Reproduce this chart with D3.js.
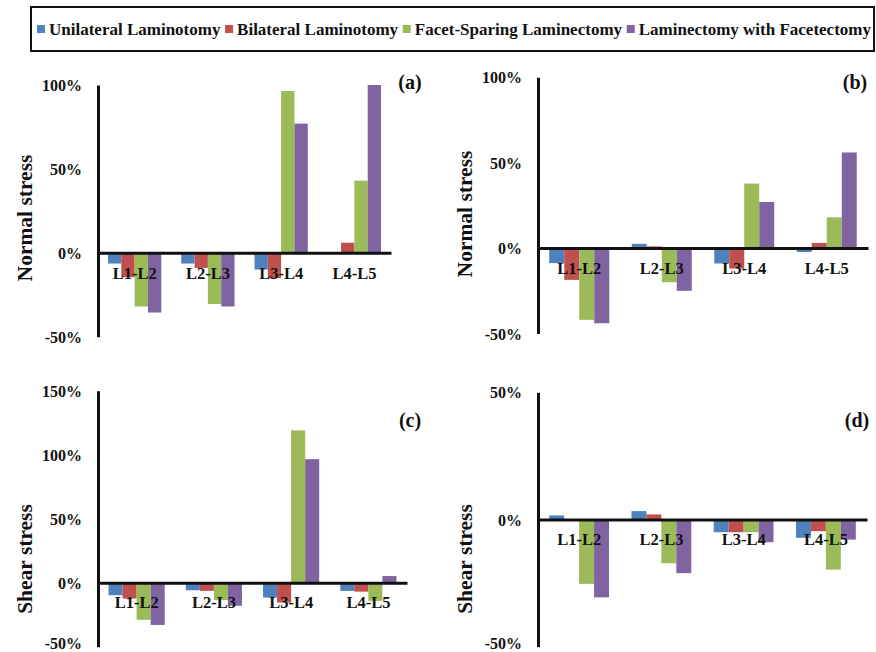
<!DOCTYPE html>
<html>
<head>
<meta charset="utf-8">
<script src="https://cdn.jsdelivr.net/npm/d3@7/dist/d3.min.js"></script>
<style>
  html, body { margin: 0; padding: 0; background: #fff; }
  svg { display: block; }
</style>
</head>
<body>
<svg id="chart" width="876" height="652"></svg>
<script>
// Spinal levels and decompression procedures
const categories = ["L1-L2", "L2-L3", "L3-L4", "L4-L5"];
const seriesNames = ["Unilateral Laminotomy", "Bilateral Laminotomy", "Facet-Sparing Laminectomy", "Laminectomy with Facetectomy"];
const seriesColors = ["#4f81bd", "#c0504d", "#9bbb59", "#8064a2"];

// Percent change per procedure (rows follow seriesNames, columns follow categories)
const normalStressA = [
  [-6.4, -6.4, -10, 0],
  [-14.5, -9, -15, 6],
  [-32, -30.5, 96.4, 43],
  [-35.6, -32, 77, 100]
];
const normalStressB = [
  [-8.8, 2.5, -9, -2.3],
  [-18.6, 1, -12, 3],
  [-42, -20, 37.8, 18],
  [-44, -25, 27, 56]
];
const shearStressC = [
  [-9.8, -5.9, -11.6, -6.4],
  [-12.4, -6.4, -15.5, -7],
  [-29, -13.6, 119, -14.2],
  [-33, -18, 96.5, 5.2]
];
const shearStressD = [
  [1.6, 3.3, -5, -7.2],
  [0, 2, -5, -4.6],
  [-25.3, -17.2, -5, -19.7],
  [-30.6, -21.1, -8.9, -7.9]
];

const ticksAB = [-50, 0, 50, 100];
const ticksC = [-50, 0, 50, 100, 150];
const ticksD = [-50, 0, 50];

const FONT = "'Liberation Serif', 'Times New Roman', Tinos, 'Nimbus Roman', 'DejaVu Serif', serif";
const svg = d3.select("#chart");

function styleText(sel, size) {
  return sel.attr("font-family", FONT).attr("font-weight", "bold")
    .attr("font-size", size).attr("fill", "#111")
    .style("font-family", FONT).style("font-weight", "bold").style("font-size", size + "px");
}

// Legend box across the top; entries are spread to fill the box width
const legend = svg.append("g");
legend.append("rect")
  .attr("x", 31).attr("y", 7).attr("width", 843).attr("height", 44)
  .attr("fill", "#fff").attr("stroke", "#111").attr("stroke-width", 2);

const legStart = 37, legEnd = 871, swatch = 8, swatchGap = 4;
let legSize = 17;
const labels = seriesNames.map(name => styleText(legend.append("text"), legSize).attr("y", 35).text(name));
let widths = labels.map(t => t.node().getComputedTextLength());
let free = legEnd - legStart - seriesNames.length * (swatch + swatchGap) - d3.sum(widths);
if (free < 3 * 4) {
  // shrink the lettering until the entries fit with a small gap
  legSize = legSize * (legEnd - legStart - seriesNames.length * (swatch + swatchGap) - 12) / d3.sum(widths);
  labels.forEach(t => styleText(t, legSize));
  widths = labels.map(t => t.node().getComputedTextLength());
  free = legEnd - legStart - seriesNames.length * (swatch + swatchGap) - d3.sum(widths);
}
const itemGap = free / (seriesNames.length - 1);
let lx = legStart;
seriesNames.forEach((name, i) => {
  legend.append("rect")
    .attr("x", lx).attr("y", 25).attr("width", swatch).attr("height", swatch)
    .attr("fill", seriesColors[i]);
  labels[i].attr("x", lx + swatch + swatchGap);
  lx += swatch + swatchGap + widths[i] + itemGap;
});

// One grouped bar panel
function drawPanel(cfg) {
  const g = svg.append("g");
  const x0 = d3.scaleBand().domain(categories).range([cfg.left, cfg.right]).paddingInner(0).paddingOuter(0);
  const x1 = d3.scaleBand().domain(d3.range(seriesNames.length)).range([0, x0.bandwidth()])
    .paddingInner(0).paddingOuter(0.75);
  const y = d3.scaleLinear().domain(cfg.domain).range([cfg.bottom, cfg.top]);

  // bars
  cfg.data.forEach((values, s) => {
    g.append("g").selectAll("rect")
      .data(values.map((v, c) => ({ v, c })))
      .join("rect")
      .attr("x", d => x0(categories[d.c]) + x1(s))
      .attr("width", x1.bandwidth())
      .attr("y", d => y(Math.max(0, d.v)))
      .attr("height", d => Math.abs(y(d.v) - y(0)))
      .attr("fill", seriesColors[s]);
  });

  // vertical value axis
  const yAxis = d3.axisLeft(y).tickValues(cfg.ticks).tickSize(0).tickPadding(16)
    .tickFormat(d => d + "%");
  const ya = g.append("g").attr("transform", `translate(${cfg.left},0)`).call(yAxis);
  ya.attr("font-family", FONT);
  ya.select(".domain").attr("stroke", "#111").attr("stroke-width", 3);
  styleText(ya.selectAll("text"), 16).attr("dy", "0.35em");
  // keep the lowest label inside the canvas
  ya.selectAll(".tick text").filter(d => y(d) > 640).attr("dy", "0.1em");

  // zero line with level labels
  const xAxis = d3.axisBottom(x0).tickSize(0).tickSizeOuter(0).tickPadding(0);
  const xa = g.append("g").attr("transform", `translate(0,${y(0)})`).call(xAxis);
  xa.attr("font-family", FONT);
  xa.select(".domain").attr("stroke", "#111").attr("stroke-width", 3);
  styleText(xa.selectAll("text"), 16.5).attr("y", 20).attr("dy", "0.35em");

  // axis title
  styleText(g.append("text"), 21.5)
    .attr("transform", `translate(${cfg.titleX},${cfg.titleY}) rotate(-90)`)
    .attr("text-anchor", "middle").attr("dy", "0.35em")
    .text(cfg.title);

  // panel tag
  styleText(g.append("text"), 20)
    .attr("x", cfg.tagX).attr("y", cfg.tagY)
    .attr("text-anchor", "middle").attr("dy", "0.35em")
    .text(cfg.tag);
}

drawPanel({ data: normalStressA, domain: [-50, 100], ticks: ticksAB, left: 98, right: 391, top: 85, bottom: 336.7,
  title: "Normal stress", titleX: 24, titleY: 218, tag: "(a)", tagX: 410, tagY: 82 });
drawPanel({ data: normalStressB, domain: [-50, 100], ticks: ticksAB, left: 538, right: 868, top: 77.3, bottom: 333.5,
  title: "Normal stress", titleX: 464, titleY: 214, tag: "(b)", tagX: 855, tagY: 82 });
drawPanel({ data: shearStressC, domain: [-50, 150], ticks: ticksC, left: 98, right: 407, top: 390.7, bottom: 646.7,
  title: "Shear stress", titleX: 24, titleY: 559, tag: "(c)", tagX: 410, tagY: 420 });
drawPanel({ data: shearStressD, domain: [-50, 50], ticks: ticksD, left: 538, right: 867, top: 392.3, bottom: 646.7,
  title: "Shear stress", titleX: 464, titleY: 559, tag: "(d)", tagX: 857, tagY: 420 });
</script>
</body>
</html>
